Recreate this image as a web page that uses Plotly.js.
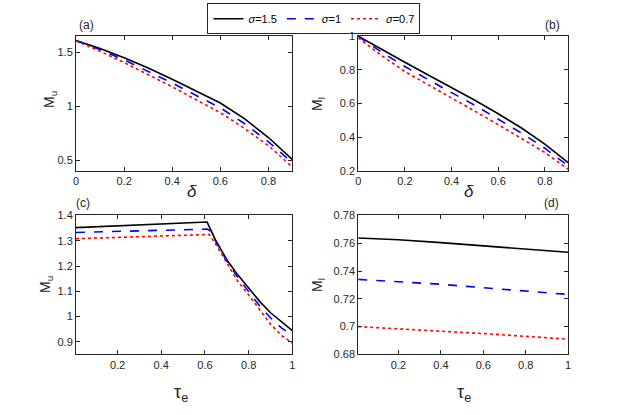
<!DOCTYPE html>
<html>
<head>
<meta charset="utf-8">
<script src="https://cdn.plot.ly/plotly-3.0.1.min.js"></script>
<style>
  html, body { margin: 0; padding: 0; background: #fff; }
  #chart { width: 623px; height: 415px; }
</style>
</head>
<body>
<div id="chart"></div>
<script>
// series names
var sigmaNames = ['<i>σ</i>=1.5', '<i>σ</i>=1', '<i>σ</i>=0.7'];

// panels (a),(b): against delta
var delta = [0, 0.1, 0.2, 0.3, 0.4, 0.5, 0.6, 0.7, 0.8, 0.9];
var muA1 = [1.608, 1.535, 1.450, 1.355, 1.250, 1.140, 1.030, 0.885, 0.710, 0.505];
var muA2 = [1.608, 1.525, 1.430, 1.325, 1.215, 1.100, 0.985, 0.840, 0.670, 0.475];
var muA3 = [1.605, 1.510, 1.405, 1.295, 1.180, 1.060, 0.940, 0.795, 0.635, 0.435];
var mlB1 = [1.000, 0.920, 0.845, 0.770, 0.695, 0.620, 0.540, 0.455, 0.360, 0.250];
var mlB2 = [1.000, 0.905, 0.820, 0.740, 0.665, 0.590, 0.510, 0.425, 0.335, 0.230];
var mlB3 = [0.990, 0.885, 0.790, 0.710, 0.630, 0.555, 0.475, 0.395, 0.310, 0.210];

// panel (c): against tau_e
var tauC = [0.01, 0.2, 0.4, 0.61, 0.62, 0.65, 0.7, 0.75, 0.8, 0.85, 0.9, 0.95, 1];
var muC1 = [1.352, 1.359, 1.366, 1.374, 1.355, 1.300, 1.225, 1.165, 1.113, 1.060, 1.015, 0.978, 0.944];
var muC2 = [1.333, 1.337, 1.341, 1.346, 1.342, 1.295, 1.220, 1.155, 1.100, 1.042, 0.995, 0.955, 0.925];
var muC3 = [1.308, 1.313, 1.318, 1.323, 1.325, 1.285, 1.210, 1.140, 1.085, 1.025, 0.970, 0.925, 0.895];

// panel (d): against tau_e
var tauD = [0.01, 0.2, 0.4, 0.6, 0.8, 1];
var mlD1 = [0.7638, 0.7625, 0.7605, 0.7580, 0.7558, 0.7535];
var mlD2 = [0.7340, 0.7325, 0.7305, 0.7280, 0.7255, 0.7232];
var mlD3 = [0.7000, 0.6985, 0.6967, 0.6950, 0.6930, 0.6910];

var styles = [
  {color: '#000000', width: 1.6, dash: 'solid'},
  {color: '#0000ff', width: 1.6, dash: 'dash'},
  {color: '#ff0000', width: 1.6, dash: 'dot'}
];

function series(x, ys, xa, ya, showLegend) {
  return ys.map(function (y, i) {
    return {
      x: x, y: y, xaxis: xa, yaxis: ya, type: 'scatter', mode: 'lines',
      name: sigmaNames[i], line: styles[i], showlegend: showLegend
    };
  });
}

var data = []
  .concat(series(delta, [muA1, muA2, muA3], 'x', 'y', true))
  .concat(series(delta, [mlB1, mlB2, mlB3], 'x2', 'y2', false))
  .concat(series(tauC, [muC1, muC2, muC3], 'x3', 'y3', false))
  .concat(series(tauD, [mlD1, mlD2, mlD3], 'x4', 'y4', false));

var fam = 'Liberation Sans, Arial, sans-serif';
var fnt = {family: fam, size: 11, color: '#262626'};

function ax(domain, range, tickvals, anchor) {
  return {
    domain: domain, range: range, anchor: anchor,
    tickvals: tickvals, ticks: 'inside', ticklen: 4, tickcolor: '#262626',
    showline: true, linecolor: '#262626', linewidth: 1, mirror: 'ticks',
    showgrid: false, zeroline: false, tickfont: fnt
  };
}

// labels placed in pixels of the 623x415 picture
function label(text, px, py, size, angle) {
  return {
    text: text, x: px / 623, y: 1 - py / 415, xref: 'paper', yref: 'paper',
    xanchor: 'center', yanchor: 'middle', showarrow: false, textangle: angle || 0,
    font: {family: fam, size: size, color: '#262626'}
  };
}

var xL = [0.122, 0.4695], xR = [0.575, 0.912];
var yT = [0.588, 0.913], yB = [0.146, 0.481];

var layout = {
  width: 623, height: 415,
  margin: {l: 0, r: 0, t: 0, b: 0},
  paper_bgcolor: '#fff', plot_bgcolor: '#fff',
  font: fnt,
  showlegend: true,
  legend: {
    orientation: 'h', x: 0.504, xanchor: 'center', y: 0.992, yanchor: 'top',
    bordercolor: '#262626', borderwidth: 1, bgcolor: 'rgba(255,255,255,0)',
    font: {family: fam, size: 11, color: '#000'}, itemwidth: 30
  },
  xaxis: ax(xL, [0, 0.9], [0, 0.2, 0.4, 0.6, 0.8], 'y'),
  yaxis: ax(yT, [0.4, 1.65], [0.5, 1, 1.5], 'x'),
  xaxis2: ax(xR, [0, 0.9], [0, 0.2, 0.4, 0.6, 0.8], 'y2'),
  yaxis2: ax(yT, [0.2, 1.0005], [0.2, 0.4, 0.6, 0.8, 1], 'x2'),
  xaxis3: ax(xL, [0.01, 1.0005], [0.2, 0.4, 0.6, 0.8, 1], 'y3'),
  yaxis3: ax(yB, [0.85, 1.4005], [0.9, 1, 1.1, 1.2, 1.3, 1.4], 'x3'),
  xaxis4: ax(xR, [0.01, 1.0005], [0.2, 0.4, 0.6, 0.8, 1], 'y4'),
  yaxis4: ax(yB, [0.68, 0.7801], [0.68, 0.7, 0.72, 0.74, 0.76, 0.78], 'x4'),
  annotations: [
    label('(a)', 87, 25, 12),
    label('(b)', 552, 25, 12),
    label('(c)', 83, 203, 12),
    label('(d)', 551, 203, 12),
    label('<i>δ</i>', 192, 191, 17),
    label('<i>δ</i>', 469, 191, 17),
    label('τ<sub>e</sub>', 181, 393, 18),
    label('τ<sub>e</sub>', 464, 393, 18),
    label('M<sub>u</sub>', 50, 100, 14, -90),
    label('M<sub>l</sub>', 318, 104, 14, -90),
    label('M<sub>u</sub>', 46, 285, 14, -90),
    label('M<sub>l</sub>', 318, 285, 14, -90)
  ]
};

Plotly.newPlot('chart', data, layout, {displayModeBar: false, staticPlot: true});
</script>
</body>
</html>
